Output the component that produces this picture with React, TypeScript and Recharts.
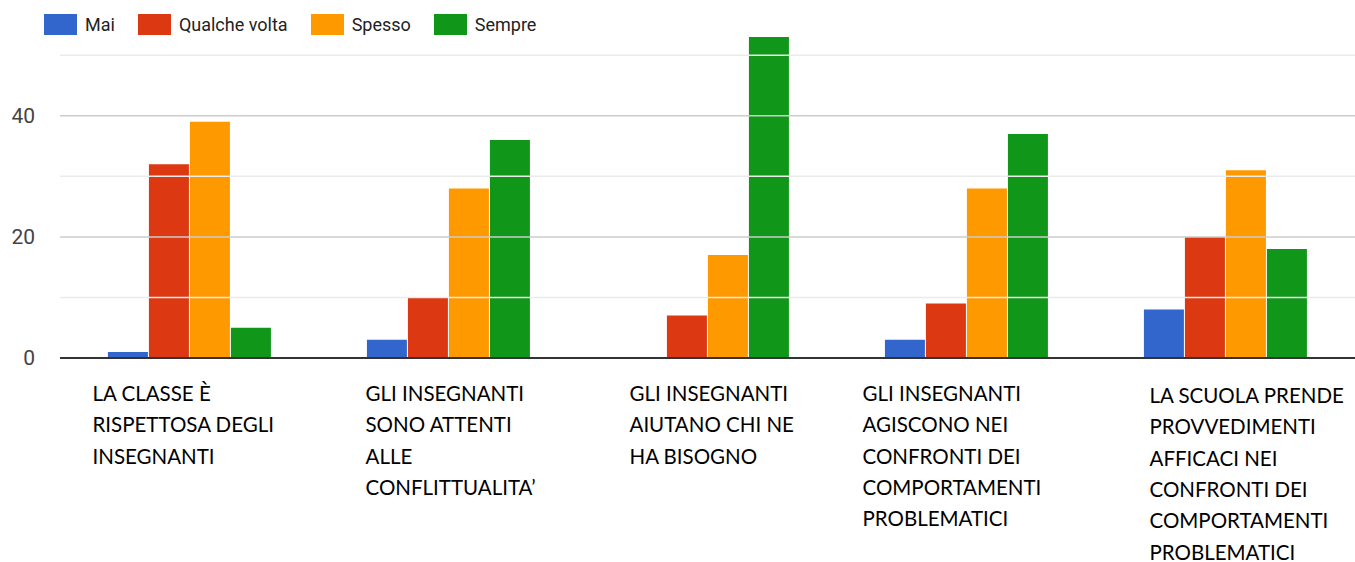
import React from "react";
import { BarChart, Bar, XAxis, YAxis, ReferenceLine, Legend } from "recharts";

const categories = [
  "LA CLASSE È\nRISPETTOSA DEGLI\nINSEGNANTI",
  "GLI INSEGNANTI\nSONO ATTENTI\nALLE\nCONFLITTUALITA’",
  "GLI INSEGNANTI\nAIUTANO CHI NE\nHA BISOGNO",
  "GLI INSEGNANTI\nAGISCONO NEI\nCONFRONTI DEI\nCOMPORTAMENTI\nPROBLEMATICI",
  "LA SCUOLA PRENDE\nPROVVEDIMENTI\nAFFICACI NEI\nCONFRONTI DEI\nCOMPORTAMENTI\nPROBLEMATICI",
];
const mai = [1, 3, 0, 3, 8];
const qualcheVolta = [32, 10, 7, 9, 20];
const spesso = [39, 28, 17, 28, 31];
const sempre = [5, 36, 53, 37, 18];
const yTicks = [0, 10, 20, 30, 40, 50];
const labeledTicks = [0, 20, 40];

const seriesNames = ["Mai", "Qualche volta", "Spesso", "Sempre"];
const colors = ["#3366cc", "#dc3912", "#ff9900", "#109618"];

const data = categories.map((c, i) => ({
  cat: c,
  mai: mai[i],
  qualche: qualcheVolta[i],
  spesso: spesso[i],
  sempre: sempre[i],
}));

// label placement tweaks (style)
const labelDx = [-97, -83, -78, -104, -76];
const labelDy = [0, 0, 0, 0, 2];

const CatTick = (props: any) => {
  const { x, y, payload, index } = props;
  const lines = String(payload.value).split("\n");
  const i = index ?? payload.index ?? 0;
  return (
    <text
      x={x + labelDx[i]}
      y={y}
      fill="#000"
      fontFamily="Lato, 'Open Sans', sans-serif"
      fontSize={20.5}
      textAnchor="start"
    >
      {lines.map((l, k) => (
        <tspan key={k} x={x + labelDx[i]} y={y + 35 + labelDy[i] + k * 31.3}>
          {l}
        </tspan>
      ))}
    </text>
  );
};

const LegendContent = () => (
  <div
    style={{
      display: "flex",
      alignItems: "center",
      height: 25,
      paddingLeft: 44,
      fontFamily: "Roboto, Arial, sans-serif",
      fontSize: 18,
      color: "#222",
    }}
  >
    {seriesNames.map((n, i) => (
      <div key={n} style={{ display: "flex", alignItems: "center", marginRight: 23 }}>
        <div style={{ width: 33, height: 21, background: colors[i], marginRight: 8 }} />
        <span>{n}</span>
      </div>
    ))}
  </div>
);

export default function App() {
  return (
    <div style={{ position: "absolute", left: 0, top: 0, width: 1355, height: 562, background: "#fff" }}>
      <BarChart
        width={1355}
        height={562}
        data={data}
        margin={{ top: 0, right: 0, bottom: 4, left: 0 }}
        barCategoryGap="18.5%"
        barGap={1}
      >
        <Legend
          verticalAlign="top"
          align="left"
          content={LegendContent}
          wrapperStyle={{ top: 12, left: 0, height: 25 }}
        />
        {[10, 30, 50].map((v) => (
          <ReferenceLine key={"m" + v} y={v} stroke="#ebebeb" strokeWidth={1.5} />
        ))}
        {[20, 40].map((v) => (
          <ReferenceLine key={"M" + v} y={v} stroke="#cccccc" strokeWidth={1.5} />
        ))}
        <XAxis
          dataKey="cat"
          axisLine={false}
          tickLine={false}
          height={200}
          interval={0}
          tick={<CatTick />}
        />
        <YAxis
          width={60}
          domain={[0, 55]}
          ticks={yTicks}
          allowDataOverflow
          axisLine={false}
          tickLine={false}
          tickSize={0}
          tickMargin={25}
          tickFormatter={(v: number) => (labeledTicks.includes(v) ? String(v) : "")}
          tick={{ fill: "#444", fontSize: 21, fontFamily: "Roboto, Arial, sans-serif" }}
        />
        <Bar dataKey="mai" name="Mai" fill={colors[0]} isAnimationActive={false} />
        <Bar dataKey="qualche" name="Qualche volta" fill={colors[1]} isAnimationActive={false} />
        <Bar dataKey="spesso" name="Spesso" fill={colors[2]} isAnimationActive={false} />
        <Bar dataKey="sempre" name="Sempre" fill={colors[3]} isAnimationActive={false} />
        <ReferenceLine y={0} stroke="#333" strokeWidth={2} />
      </BarChart>
    </div>
  );
}
